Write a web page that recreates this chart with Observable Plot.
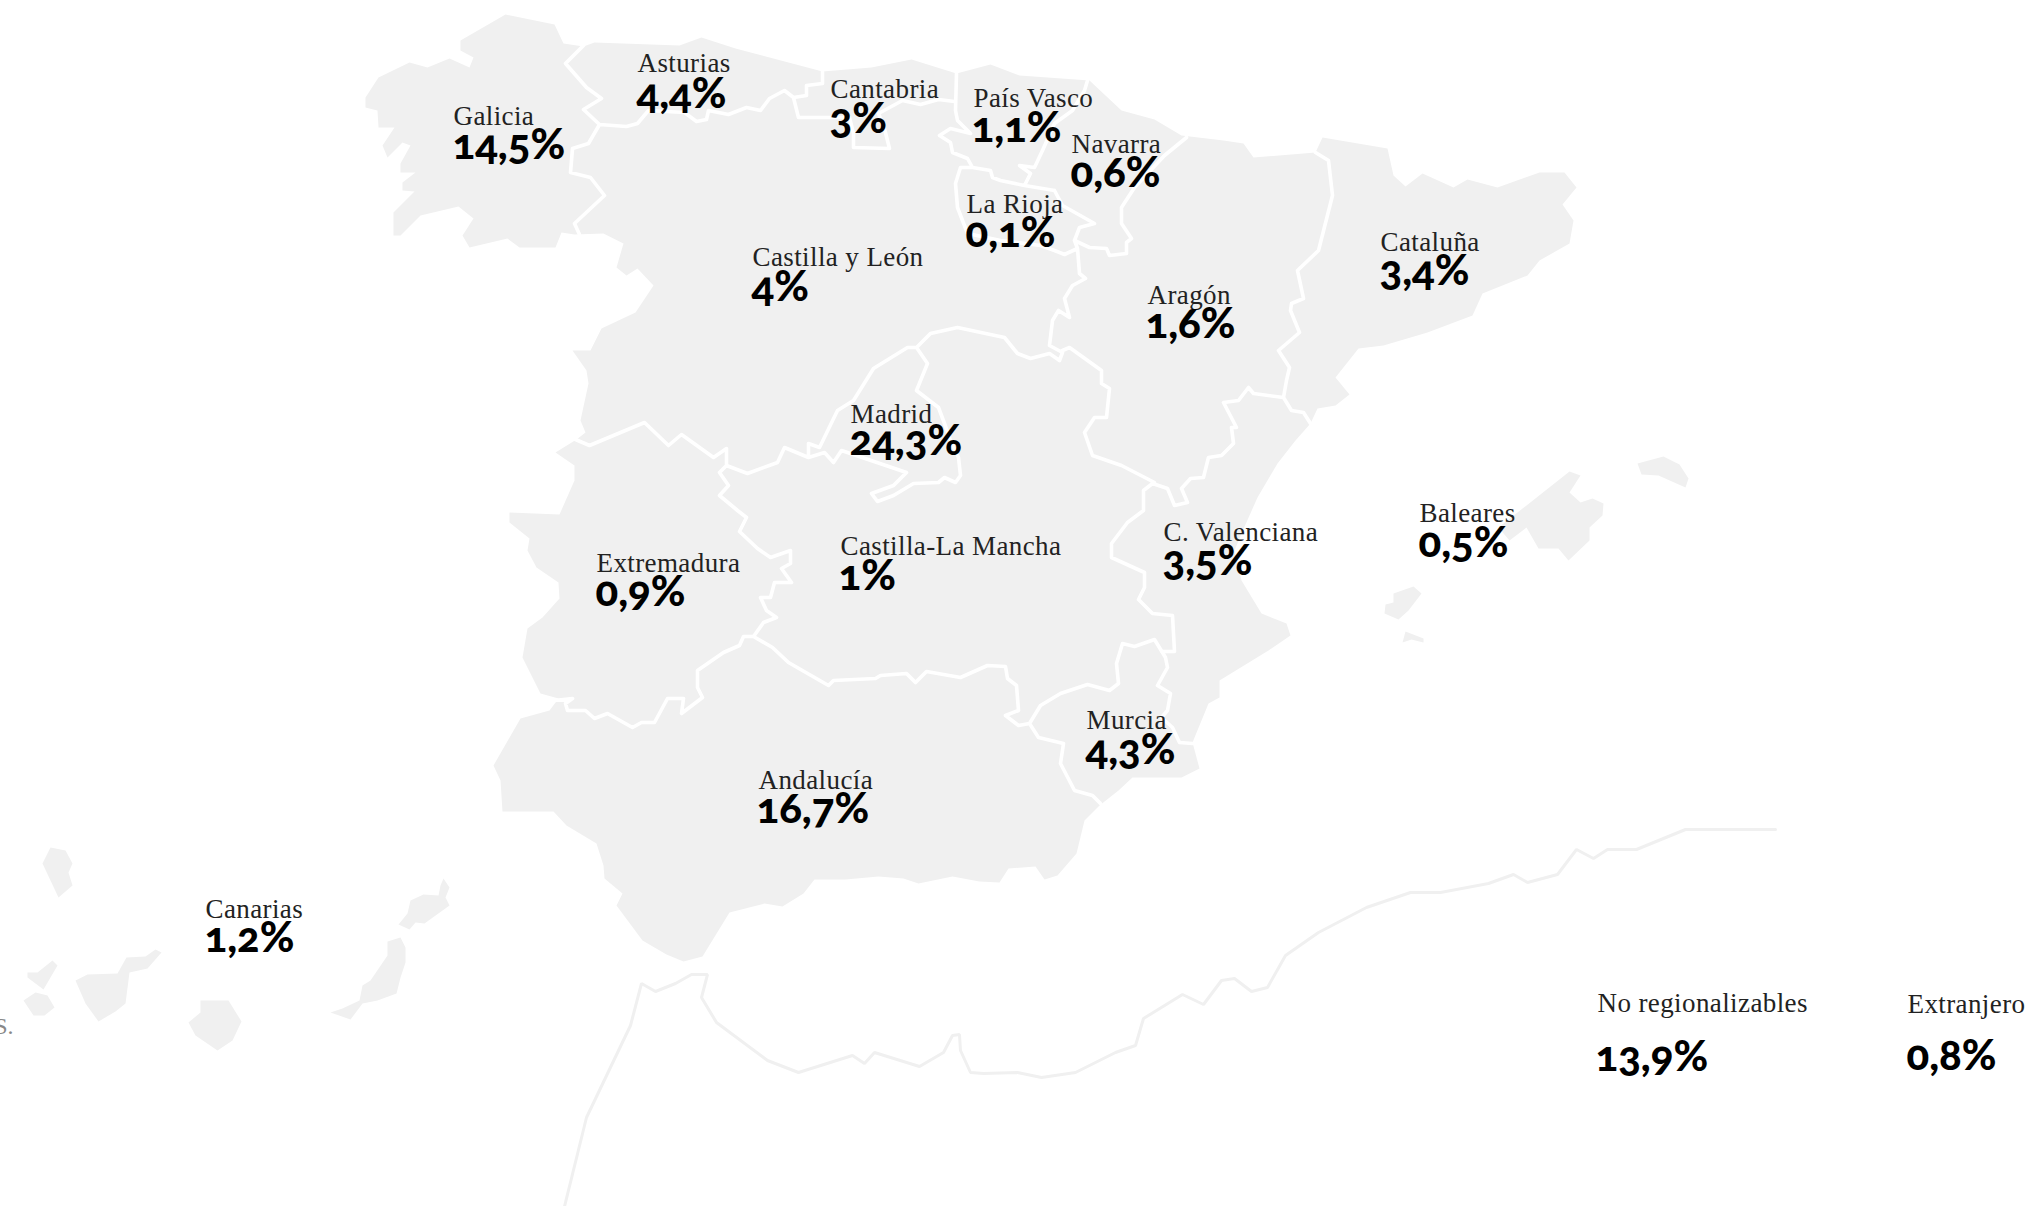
<!DOCTYPE html>
<html lang="es">
<head>
<meta charset="utf-8">
<title>Reparto por comunidades</title>
<script src="https://cdn.jsdelivr.net/npm/d3@7"></script>
<script src="https://cdn.jsdelivr.net/npm/@observablehq/plot@0.6"></script>
<style>
html,body{margin:0;padding:0;background:#fff;overflow:hidden}
svg{display:block;max-width:none}
.lbl text{font-family:"Liberation Serif",serif;font-size:27px;fill:#222;letter-spacing:.4px}
.val text{font-family:"Lato",sans-serif;font-weight:900;font-size:42px;fill:#000;font-variant-numeric:oldstyle-nums;font-feature-settings:"onum"}
.note text{font-family:"Liberation Serif",serif;font-size:24px;fill:#888}
</style>
</head>
<body>
<div id="chart"></div>
<script>
// Values
const regions = ["Galicia","Asturias","Cantabria","País Vasco","Navarra","La Rioja","Castilla y León","Aragón","Cataluña","Madrid","Castilla-La Mancha","Extremadura","Andalucía","Murcia","C. Valenciana","Baleares","Canarias","No regionalizables","Extranjero"];
const shares = ["14,5%","4,4%","3%","1,1%","0,6%","0,1%","4%","1,6%","3,4%","24,3%","1%","0,9%","16,7%","4,3%","3,5%","0,5%","1,2%","13,9%","0,8%"];

// Map geometry (map units of the reference)
const labelAnchors = [[453,124],[637,71],[830,97],[973,106],[1071,152],[966,212],[752,265],[1147,303],[1380,250],[850,422],[840,554],[596,571],[758,788],[1086,728],[1163,540],[1419,521],[205,917],[1597,1011],[1907,1012]];
const valueAnchors = [[452,158],[636,107],[829,132],[971,141],[1070,186],[965,246],[751,300],[1145,337],[1379,284],[849,454],[838,589],[595,605],[756,822],[1085,763],[1162,574],[1418,556],[204,951],[1595,1070],[1906,1069]];

const peninsula = [[505,14],[554,24],[563,43],[583,46],[594,42],[679,45],[701,37],[735,48],[822,71],[871,67],[911,59],[956,73],[990,64],[1019,75],[1089,80],[1121,110],[1154,119],[1181,135],[1223,140],[1243,143],[1253,157],[1315,152],[1322,137],[1387,148],[1393,175],[1405,186],[1422,173],[1453,187],[1467,179],[1497,187],[1539,172],[1564,172],[1576,187],[1562,204],[1573,220],[1569,243],[1539,260],[1527,275],[1482,293],[1472,315],[1427,332],[1383,345],[1358,348],[1335,377],[1349,394],[1335,405],[1317,408],[1310,423],[1295,440],[1277,463],[1257,497],[1241,533],[1234,550],[1241,580],[1261,613],[1286,623],[1290,635],[1268,650],[1219,680],[1219,697],[1208,703],[1192,742],[1199,768],[1181,777],[1132,777],[1118,790],[1099,805],[1084,820],[1076,853],[1057,875],[1044,879],[1035,866],[1008,868],[999,882],[979,881],[952,876],[918,883],[903,878],[878,876],[845,879],[814,879],[803,893],[782,906],[764,903],[729,912],[702,956],[683,961],[666,954],[642,940],[616,905],[622,893],[604,878],[603,865],[596,843],[566,825],[553,811],[502,811],[500,780],[493,765],[520,718],[549,710],[558,698],[540,693],[522,657],[527,628],[542,617],[559,598],[558,582],[536,567],[527,550],[529,538],[509,522],[509,512],[559,514],[574,480],[574,465],[555,452],[576,439],[585,432],[580,420],[588,383],[586,370],[572,350],[590,350],[601,328],[635,312],[653,285],[637,268],[626,275],[616,267],[623,243],[603,233],[574,234],[561,232],[555,247],[519,247],[507,238],[469,247],[462,235],[473,218],[458,206],[420,215],[400,235],[393,235],[393,212],[414,191],[402,190],[402,182],[415,172],[400,172],[400,163],[410,145],[402,142],[387,157],[382,145],[394,127],[378,127],[377,110],[365,107],[365,97],[378,77],[409,62],[427,67],[449,58],[469,67],[473,57],[460,50],[460,40]];
const mallorca = [[1569,471],[1580,475],[1569,492],[1580,502],[1592,498],[1603,503],[1602,515],[1589,527],[1589,540],[1568,560],[1558,548],[1538,548],[1526,527],[1509,540],[1498,527]];
const menorca = [[1637,463],[1663,456],[1679,464],[1688,478],[1685,487],[1658,475],[1641,474]];
const ibiza = [[1413,586],[1421,593],[1408,610],[1398,619],[1384,613],[1385,604],[1393,602],[1393,593]];
const formentera = [[1405,631],[1423,638],[1423,642],[1411,639],[1402,642]];
const laPalma = [[50,847],[65,850],[72,863],[68,872],[72,885],[58,897],[42,863]];
const gomera = [[23,1000],[35,992],[47,995],[54,1007],[44,1015],[33,1015]];
const hierro = [[27,972],[37,972],[52,960],[57,965],[43,989],[27,977]];
const tenerife = [[75,980],[87,974],[117,973],[126,957],[145,956],[155,949],[161,952],[147,968],[129,972],[125,1003],[115,1011],[98,1021],[85,1003]];
const granCanaria = [[200,1000],[228,1000],[241,1021],[232,1040],[217,1050],[195,1035],[188,1022],[200,1012]];
const fuerteventura = [[387,941],[400,937],[405,947],[405,962],[400,977],[396,993],[377,1000],[362,1003],[350,1019],[330,1012],[342,1008],[359,1000],[362,985],[370,980],[387,955]];
const lanzarote = [[443,878],[449,887],[445,897],[449,905],[424,923],[415,922],[409,929],[398,924],[407,913],[410,900],[423,894],[438,895],[440,885]];

const borders = [
  // Galicia
  [[583,45],[565,63],[586,87],[601,98],[583,109],[599,124],[588,143],[572,148],[570,172],[590,177],[604,195],[574,223],[579,234]],
  // Asturias
  [[599,124],[626,126],[637,123],[648,110],[684,112],[696,121],[706,119],[708,110],[728,114],[746,107],[760,110],[769,98],[784,90],[793,97],[806,95],[806,85],[822,83],[822,71]],
  // Cantabria
  [[793,97],[798,117],[831,117],[849,117],[853,133],[853,147],[889,148],[884,128],[878,113],[902,100],[920,104],[938,99],[954,101]],
  // País Vasco
  [[956,73],[955,110],[957,120],[970,133],[950,128],[939,135],[950,142],[952,152],[967,158],[972,167],[990,170],[992,177],[1000,180],[1024,185],[1054,190]],
  [[1087,80],[1084,90],[1072,110],[1054,123],[1042,150],[1034,167],[1019,165],[1030,173],[1024,185]],
  // Navarra
  [[1054,190],[1062,205],[1094,223],[1079,227],[1074,240],[1089,247],[1106,248],[1109,255],[1126,253],[1126,242],[1131,238],[1121,223],[1121,207],[1134,187],[1164,155],[1186,137]],
  // La Rioja
  [[972,167],[960,167],[955,183],[957,207],[967,233],[1000,240],[1040,245],[1054,250],[1064,254],[1077,248],[1074,240]],
  // Aragón - Castilla y León
  [[1077,248],[1079,273],[1085,278],[1072,285],[1064,298],[1069,317],[1058,310],[1052,320],[1049,345],[1062,352],[1059,360]],
  // Castilla y León - Castilla-La Mancha
  [[1059,360],[1049,353],[1030,358],[1017,353],[1004,337],[957,327],[930,333],[916,347],[907,347],[873,368],[853,400],[837,410],[819,447],[808,443],[808,457],[784,447],[777,462],[747,473],[726,465],[726,448],[713,457],[681,434],[668,445],[644,422],[589,445],[575,439]],
  // Aragón - Castilla-La Mancha
  [[1062,350],[1069,347],[1101,370],[1101,383],[1109,388],[1106,417],[1094,417],[1084,432],[1092,455],[1121,465],[1154,482]],
  // Madrid
  [[916,347],[927,363],[916,390],[938,407],[944,423],[950,440],[958,457],[960,475],[955,482],[944,477],[938,482],[913,483],[893,495],[877,501],[871,493],[893,485],[906,472],[841,450],[833,462],[824,452],[808,457]],
  // Extremadura - Castilla-La Mancha
  [[726,465],[719,472],[728,485],[719,495],[737,510],[746,517],[739,531],[757,548],[770,557],[790,550],[790,563],[781,568],[791,582],[774,582],[770,597],[760,597],[766,610],[776,617],[763,622],[753,636]],
  // Extremadura - Andalucía
  [[753,636],[743,636],[739,645],[723,652],[697,670],[697,687],[702,697],[681,713],[683,698],[667,698],[654,722],[641,722],[632,727],[607,713],[594,718],[585,710],[567,710],[565,703],[572,698],[554,700]],
  // Castilla-La Mancha - Andalucía
  [[753,636],[772,647],[788,662],[828,685],[833,680],[875,678],[880,675],[906,673],[915,682],[926,671],[960,677],[987,665],[1005,666],[1007,678],[1016,685],[1018,710],[1005,715],[1018,725],[1029,723]],
  // Murcia
  [[1029,723],[1038,737],[1063,743],[1060,763],[1074,790],[1092,795],[1100,803]],
  [[1029,723],[1040,705],[1060,693],[1087,684],[1109,690],[1118,683],[1116,663],[1122,643],[1134,646],[1154,639],[1165,657],[1167,667],[1157,685],[1170,693],[1167,710],[1161,717],[1172,727],[1179,742],[1192,743]],
  // Castilla-La Mancha - C. Valenciana
  [[1152,483],[1143,490],[1143,510],[1127,522],[1111,543],[1111,557],[1144,572],[1144,587],[1138,599],[1152,613],[1172,615],[1174,651],[1161,651]],
  // Aragón - C. Valenciana
  [[1152,483],[1167,488],[1174,505],[1187,502],[1181,488],[1190,478],[1203,477],[1208,457],[1221,455],[1233,443],[1231,427],[1236,427],[1223,402],[1238,400],[1248,387],[1253,393],[1283,397],[1291,410],[1303,412],[1310,423]],
  // Aragón - Cataluña
  [[1283,397],[1286,380],[1289,367],[1278,350],[1299,332],[1290,310],[1291,303],[1303,298],[1297,270],[1318,250],[1332,195],[1328,160],[1315,152]]
];
const africa = [[564,1206],[586,1117],[630,1025],[641,983],[655,991],[675,983],[691,974],[707,974],[701,997],[716,1022],[767,1060],[798,1072],[852,1055],[864,1063],[874,1052],[919,1066],[943,1052],[952,1035],[959,1034],[960,1050],[970,1072],[983,1073],[1017,1072],[1041,1077],[1075,1072],[1115,1052],[1135,1045],[1143,1018],[1182,994],[1203,1004],[1221,980],[1234,978],[1251,991],[1267,987],[1285,955],[1318,932],[1366,907],[1410,892],[1440,892],[1488,883],[1513,874],[1527,882],[1557,874],[1576,849],[1593,858],[1607,849],[1636,849],[1685,829],[1775,829]];

const land = {type:"MultiPolygon", coordinates:[peninsula,mallorca,menorca,ibiza,formentera,laPalma,gomera,hierro,tenerife,granCanaria,fuerteventura,lanzarote].map(r => [[...r, r[0]]])};
const labels = regions.map((name,i) => ({name, x:labelAnchors[i][0], y:labelAnchors[i][1]}));
const values = shares.map((share,i) => ({share, x:valueAnchors[i][0], y:valueAnchors[i][1]}));

const plot = Plot.plot({
  width: 2036, height: 1206,
  margin: 0,
  projection: {type:"identity"},
  style: {background:"#fff"},
  marks: [
    Plot.geo({type:"LineString", coordinates:africa}, {stroke:"#f0f0f0", strokeWidth:3, strokeLinejoin:"miter", fill:"none"}),
    Plot.geo(land, {fill:"#f0f0f0", stroke:"none"}),
    Plot.geo({type:"MultiLineString", coordinates:borders}, {stroke:"#fff", strokeWidth:3.6, fill:"none", strokeLinejoin:"round"}),
    Plot.text(["S."], {x:[13], y:[1033], textAnchor:"end", lineAnchor:"bottom", className:"note"}),
    Plot.text(labels, {x:"x", y:"y", text:"name", textAnchor:"start", lineAnchor:"bottom", className:"lbl"}),
    Plot.text(values, {x:"x", y:"y", text:"share", textAnchor:"start", lineAnchor:"bottom", className:"val"})
  ]
});
document.getElementById("chart").append(plot);
</script>
</body>
</html>
